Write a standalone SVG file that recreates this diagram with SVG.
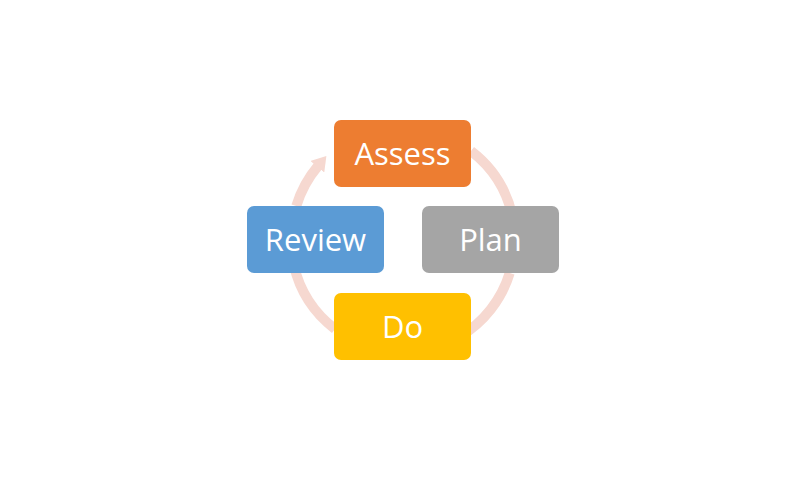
<svg xmlns="http://www.w3.org/2000/svg" width="802" height="479" viewBox="0 0 802 479">
<style>
.arc{fill:none;stroke:#F6D8D0;stroke-width:10}
.box{stroke:none}
.lbl{font-family:"Open Sans","Liberation Sans",sans-serif;font-size:31px;fill:#FFFFFF;text-anchor:middle}
</style>
<defs>
<marker id="ah" markerUnits="userSpaceOnUse" viewBox="0 0 14 18" markerWidth="14" markerHeight="18" refX="1" refY="9" orient="auto">
<path d="M0,0 L14,9 L0,18 z" fill="#F6D8D0"/>
</marker>
</defs>
<rect width="802" height="479" fill="#FFFFFF"/>
<g id="connectors">
<path class="arc" d="M 471 151 A 112 112 0 0 1 512.2 215" marker-end="url(#ah)"/>
<path class="arc" d="M 509.7 273 A 112 112 0 0 1 460 336.4" marker-end="url(#ah)"/>
<path class="arc" d="M 335 329 A 112 112 0 0 1 293.8 265" marker-end="url(#ah)"/>
<path class="arc" d="M 296.3 206 A 112 112 0 0 1 318 166" marker-end="url(#ah)"/>
</g>
<g id="assess">
<rect class="box" x="334" y="120" width="137" height="67" rx="7" fill="#ED7D31"/>
<text class="lbl" x="402.5" y="164.5">Assess</text>
</g>
<g id="plan">
<rect class="box" x="422" y="206" width="137" height="67" rx="7" fill="#A5A5A5"/>
<text class="lbl" x="490.5" y="250.5">Plan</text>
</g>
<g id="do">
<rect class="box" x="334" y="293" width="137" height="67" rx="7" fill="#FFC000"/>
<text class="lbl" x="402.5" y="337.5">Do</text>
</g>
<g id="review">
<rect class="box" x="247" y="206" width="137" height="67" rx="7" fill="#5B9BD5"/>
<text class="lbl" x="315.5" y="250.5">Review</text>
</g>
</svg>
